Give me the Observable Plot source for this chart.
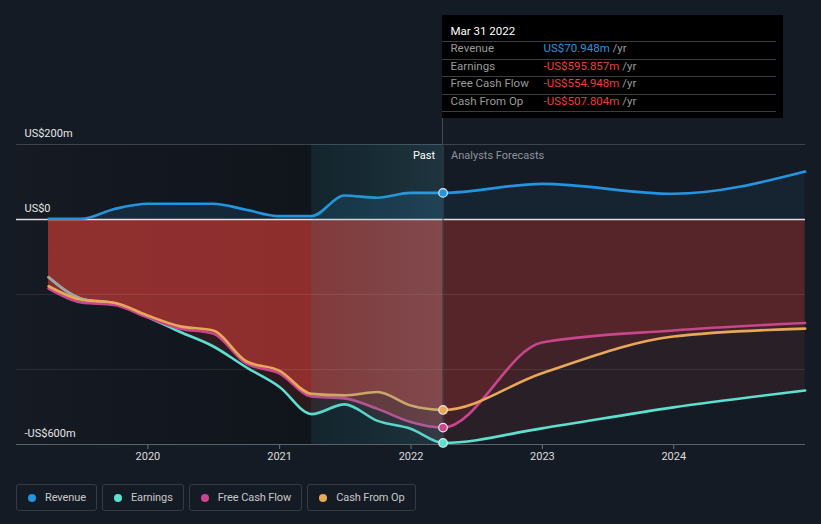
<!DOCTYPE html>
<html>
<head>
<meta charset="utf-8">
<script src="https://cdn.jsdelivr.net/npm/d3@7"></script>
<script src="https://cdn.jsdelivr.net/npm/@observablehq/plot@0.6"></script>
<style>
html,body{margin:0;padding:0;background:#151b24;}
body{width:821px;height:524px;overflow:hidden;position:relative;font-family:Roboto,"Noto Sans",sans-serif;}
#chart{position:absolute;left:0;top:0;}
#tip{position:absolute;top:15px;width:341px;height:103px;background:#000;box-sizing:border-box;padding:0 7px 0 0;color:#fff;}
#tip .title{height:20px;line-height:20px;padding:6px 0 0 9px;font-size:11.5px;color:#fff;border-bottom:1px solid #3a3d42;}
#tip .row{height:13px;line-height:13px;padding:0 0 3.5px 9px;font-size:11.5px;border-bottom:1px solid #3a3d42;display:flex;}
#tip .lab{width:93px;color:#9a9a9a;}
#tip .unit{color:#9a9a9a;}
#tipline{position:absolute;top:118px;height:26px;width:1px;background:#3b4a55;}
#legend{position:absolute;left:16px;top:484px;display:flex;gap:5px;}
#legend .item{height:25px;border:1px solid #363c46;border-radius:3px;display:flex;align-items:center;padding:0 10px 0 11px;font-size:11px;letter-spacing:-0.1px;color:#c8c8c8;}
#legend .dot{width:8px;height:8px;border-radius:50%;margin-right:9px;}
</style>
</head>
<body>
<div id="chart"></div>
<div id="tipline"></div>
<div id="tip"></div>
<div id="legend"></div>
<script>
// ---- data ----
const quarterDates = ["2019-03-31","2019-06-30","2019-09-30","2019-12-31","2020-03-31","2020-06-30","2020-09-30","2020-12-31","2021-03-31","2021-06-30","2021-09-30","2021-12-31","2022-03-31","2022-12-31","2023-12-31","2024-12-31"];
const revenue      = [2, 2, 28, 42, 42, 42, 26, 9, 9, 64, 58, 71, 70.948, 95, 68.5, 128];
const earnings     = [-154, -211, -224, -260, -300, -338, -394, -446, -519, -493, -537, -558, -595.857, -557, -501, -456];
const freeCashFlow = [-184, -221, -228, -261, -291, -304, -384, -410, -472, -477, -505, -540, -554.948, -328, -296, -276];
const cashFromOp   = [-178, -214, -222, -256, -285, -296, -378, -403, -465, -469, -460, -496, -507.804, -410, -312, -291];
const seriesNames  = ["Revenue", "Earnings", "Free Cash Flow", "Cash From Op"];
const seriesKeys   = ["revenue", "earnings", "fcf", "cfo"];
const seriesColors = ["#2394df", "#5ce1d0", "#c8468c", "#e8a85a"];
const yTickValues  = [200, 0, -600];
const yTickLabels  = ["US$200m", "US$0", "-US$600m"];
const yGridValues  = [-200, -400];
const yearTicks    = ["2020-01-01","2021-01-01","2022-01-01","2023-01-01","2024-01-01"].map(d => new Date(d));
const xDomain      = [new Date("2019-01-01"), new Date("2025-01-01")];
const yDomain      = [-600, 200];
const nowDate      = new Date("2022-03-31");
const highlightStart = new Date("2021-03-31");
const earlyEnd     = new Date("2019-09-30");

const rows = quarterDates.map((d, i) => ({
  date: new Date(d), revenue: revenue[i], earnings: earnings[i], fcf: freeCashFlow[i], cfo: cashFromOp[i]
}));
const nowRow = rows.find(r => +r.date === +nowDate);
const red = "#d23c37";

function areas(cls, opE, opF, opRev) {
  return [
    Plot.areaY(rows, {x: "date", y1: 0, y2: "revenue", curve: "monotone-x", fill: seriesColors[0], fillOpacity: opRev, className: cls}),
    Plot.areaY(rows, {x: "date", y1: 0, y2: "earnings", curve: "monotone-x", fill: red, fillOpacity: opE, className: cls}),
    Plot.areaY(rows, {x: "date", y1: 0, y2: "fcf", curve: "monotone-x", fill: red, fillOpacity: opF, className: cls}),
    Plot.areaY(rows, {x: "date", y1: 0, y2: "cfo", curve: "monotone-x", fill: red, fillOpacity: opF, className: cls})
  ];
}

const svg = Plot.plot({
  width: 821, height: 470,
  marginTop: 144, marginBottom: 26, marginLeft: 16, marginRight: 16,
  style: {background: "transparent", fontFamily: "Roboto, 'Noto Sans', sans-serif", fontSize: "11px", color: "#6c727a", overflow: "visible"},
  x: {type: "utc", domain: xDomain, ticks: yearTicks, tickFormat: d3.utcFormat("%Y"), tickSize: 5, tickPadding: 3, label: null},
  y: {domain: yDomain, axis: null},
  marks: [
    Plot.rect([{x1: xDomain[0], x2: nowDate}], {x1: "x1", x2: "x2", y1: yDomain[0], y2: yDomain[1], fill: "url(#pastBg)"}),
    ...areas("past-clip", 0.15, 0.36, 0.15),
    ...areas("fc-clip", 0.11, 0.14, 0.08),
    Plot.ruleY(yGridValues, {stroke: "#ffffff", strokeOpacity: 0.09}),
    Plot.ruleY([yDomain[1]], {stroke: "#3d434d"}),
    Plot.ruleY([yDomain[0]], {stroke: "#5c626a"}),
    Plot.ruleY([0], {stroke: "#f2f2f2", strokeWidth: 1.5, strokeOpacity: 0.9}),
    Plot.line(rows, {x: "date", y: "earnings", curve: "monotone-x", stroke: seriesColors[1], strokeWidth: 2.6}),
    Plot.line(rows.filter(r => r.date <= earlyEnd), {x: "date", y: "earnings", curve: "monotone-x", stroke: "#a2a2a2", strokeWidth: 2.6}),
    Plot.line(rows, {x: "date", y: "fcf", curve: "monotone-x", stroke: seriesColors[2], strokeWidth: 2.6}),
    Plot.line(rows, {x: "date", y: "cfo", curve: "monotone-x", stroke: seriesColors[3], strokeWidth: 2.6}),
    Plot.line(rows, {x: "date", y: "revenue", curve: "monotone-x", stroke: seriesColors[0], strokeWidth: 2.6}),
    Plot.rect([{x1: highlightStart, x2: nowDate}], {x1: "x1", x2: "x2", y1: yDomain[0], y2: yDomain[1], fill: "url(#hlGrad)"}),
    Plot.ruleX([nowDate], {stroke: "#3b4a55"}),
    Plot.dot(seriesKeys.map((k, i) => ({date: nowRow.date, v: nowRow[k], c: seriesColors[i]})),
      {x: "date", y: "v", r: 4.3, fill: "c", stroke: "#e6e6e6", strokeWidth: 1.2}),
    Plot.text(yTickValues, {x: xDomain[0], y: d => d, text: (d, i) => yTickLabels[i], textAnchor: "start", lineAnchor: "bottom", dx: 8, dy: -8, fill: "#e6e6e6", fontSize: 11}),
    Plot.text(["Past"], {x: nowDate, y: yDomain[1], text: d => d, textAnchor: "end", lineAnchor: "top", dx: -8, dy: 7, fill: "#ffffff", fontSize: 11}),
    Plot.text(["Analysts Forecasts"], {x: nowDate, y: yDomain[1], text: d => d, textAnchor: "start", lineAnchor: "top", dx: 8, dy: 7, fill: "#8c939b", fontSize: 11})
  ]
});

// gradients & clip paths
const xs = svg.scale("x");
const XN = xs.apply(nowDate);
const sel = d3.select(svg);
const defs = sel.insert("defs", ":first-child");
const g1 = defs.append("linearGradient").attr("id", "pastBg").attr("x1", 0).attr("x2", 1).attr("y1", 0).attr("y2", 0);
g1.append("stop").attr("offset", 0).attr("stop-color", "#151a23");
g1.append("stop").attr("offset", 1).attr("stop-color", "#0e1218");
const g2 = defs.append("linearGradient").attr("id", "hlGrad").attr("x1", 0).attr("x2", 1).attr("y1", 0).attr("y2", 0);
g2.append("stop").attr("offset", 0).attr("stop-color", "#2a98aa").attr("stop-opacity", 0.12);
g2.append("stop").attr("offset", 1).attr("stop-color", "#5aa6c2").attr("stop-opacity", 0.23);
defs.append("clipPath").attr("id", "clipPast").append("rect").attr("x", 0).attr("y", 0).attr("width", XN).attr("height", 470);
defs.append("clipPath").attr("id", "clipFc").append("rect").attr("x", XN).attr("y", 0).attr("width", 821 - XN).attr("height", 470);
sel.selectAll(".past-clip").attr("clip-path", "url(#clipPast)");
sel.selectAll(".fc-clip").attr("clip-path", "url(#clipFc)");
sel.selectAll("g[aria-label='x-axis tick label'] text, g[aria-label='x-axis tick label']").attr("fill", "#dcdcdc");
document.getElementById("chart").appendChild(svg);

// tooltip
const fmt = v => (v < 0 ? "-" : "") + "US$" + Math.abs(v).toFixed(3) + "m";
const tip = document.getElementById("tip");
tip.style.left = (XN - 1) + "px";
document.getElementById("tipline").style.left = (XN - 0.5) + "px";
let html = `<div class="title">${d3.utcFormat("%b %d %Y")(nowDate)}</div>`;
seriesKeys.forEach((k, i) => {
  const v = nowRow[k];
  html += `<div class="row"><span class="lab">${seriesNames[i]}</span><span style="color:${v < 0 ? "#f03c3c" : seriesColors[0]}">${fmt(v)}</span><span class="unit">&nbsp;/yr</span></div>`;
});
tip.innerHTML = html;

// legend
const legend = document.getElementById("legend");
seriesNames.forEach((n, i) => {
  const it = document.createElement("div");
  it.className = "item";
  it.innerHTML = `<span class="dot" style="background:${seriesColors[i]}"></span>${n}`;
  legend.appendChild(it);
});
</script>
</body>
</html>
